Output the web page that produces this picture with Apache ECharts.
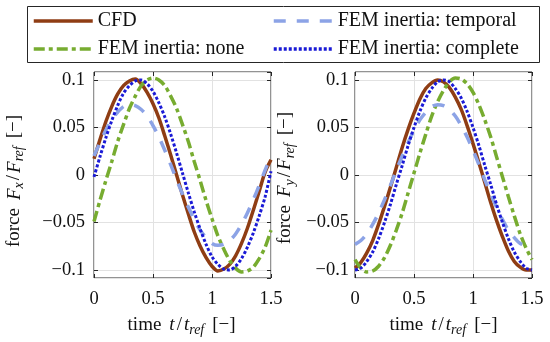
<!DOCTYPE html>
<html>
<head>
<meta charset="utf-8">
<script src="https://cdn.jsdelivr.net/npm/echarts@6/dist/echarts.min.js"></script>
<style>html,body{margin:0;padding:0;background:#fff}#c{width:550px;height:342px}</style>
</head>
<body>
<div id="c"></div>
<script>
const times = [0,0.05,0.1,0.15,0.2,0.25,0.3,0.35,0.4,0.45,0.5,0.55,0.6,0.65,0.7,0.75,0.8,0.85,0.9,0.95,1,1.05,1.1,1.15,1.2,1.25,1.3,1.35,1.4,1.45,1.5];

const seriesNames = ['CFD', 'FEM inertia: none', 'FEM inertia: temporal', 'FEM inertia: complete'];

// Fx / Fref
const fxCFD = [0.017,0.037,0.056,0.072,0.085,0.094,0.099,0.101,0.096,0.087,0.075,0.06,0.041,0.021,0,-0.021,-0.041,-0.06,-0.075,-0.087,-0.096,-0.101,-0.099,-0.094,-0.085,-0.072,-0.056,-0.037,-0.017,0.003,0.016];
const fxNone = [-0.049,-0.027,-0.006,0.014,0.035,0.053,0.070,0.083,0.094,0.1,0.102,0.1,0.094,0.083,0.070,0.053,0.035,0.014,-0.006,-0.027,-0.046,-0.064,-0.078,-0.09,-0.098,-0.102,-0.101,-0.097,-0.088,-0.076,-0.058];
const fxTemporal = [0.020,0.034,0.047,0.058,0.066,0.072,0.074,0.073,0.069,0.062,0.052,0.040,0.026,0.011,-0.005,-0.020,-0.034,-0.047,-0.058,-0.066,-0.072,-0.074,-0.073,-0.069,-0.062,-0.052,-0.040,-0.026,-0.011,0.005,0.020];
const fxComplete = [-0.002,0.019,0.039,0.057,0.073,0.086,0.094,0.099,0.1,0.096,0.088,0.076,0.061,0.043,0.023,0.002,-0.019,-0.039,-0.057,-0.073,-0.086,-0.094,-0.099,-0.1,-0.096,-0.088,-0.076,-0.061,-0.043,-0.023,0.004];

// Fy / Fref
const fyCFD = [-0.098,-0.092,-0.082,-0.069,-0.052,-0.033,-0.013,0.008,0.029,0.048,0.065,0.08,0.091,0.097,0.1,0.098,0.092,0.082,0.069,0.052,0.033,0.013,-0.008,-0.029,-0.048,-0.065,-0.08,-0.091,-0.097,-0.1,-0.1];
const fyNone = [-0.089,-0.098,-0.102,-0.101,-0.096,-0.087,-0.074,-0.058,-0.040,-0.019,0.002,0.023,0.043,0.062,0.077,0.089,0.098,0.102,0.101,0.096,0.087,0.074,0.058,0.040,0.019,-0.002,-0.023,-0.043,-0.062,-0.077,-0.089];
const fyTemporal = [-0.073,-0.069,-0.062,-0.052,-0.040,-0.026,-0.011,0.005,0.020,0.034,0.047,0.058,0.066,0.072,0.074,0.073,0.069,0.062,0.052,0.040,0.026,0.011,-0.005,-0.020,-0.034,-0.047,-0.058,-0.066,-0.072,-0.074,-0.073];
const fyComplete = [-0.1,-0.098,-0.091,-0.081,-0.067,-0.05,-0.031,-0.010,0.010,0.031,0.05,0.067,0.081,0.091,0.098,0.1,0.098,0.091,0.081,0.067,0.05,0.031,0.010,-0.010,-0.031,-0.05,-0.067,-0.081,-0.091,-0.098,-0.1];

const xMin = 0, xMax = 1.5, xStep = 0.5;
const yMin = -0.1084, yMax = 0.1084;

const FONT = 'Liberation Serif';
const colors = ['#8f3d14', '#77ac30', '#8ca3e6', '#1a1ad6'];
const styles = [
  {width: 3.5, type: 'solid'},
  {width: 3.5, type: [11, 4, 4, 4]},
  {width: 3.5, type: [12, 11]},
  {width: 3, type: [3, 2]}
];

const chart = echarts.init(document.getElementById('c'), null, {renderer: 'canvas'});

function fmtY(v) {
  if (Math.abs(v) > 0.105) return '';
  const r = Math.round(v * 1000) / 1000;
  if (r === 0) return '0';
  return String(r).replace('-', '\u2212');
}

function mkX(gi, pos, labels) {
  return {
    type: 'value', gridIndex: gi, position: pos, min: xMin, max: xMax, interval: xStep,
    axisLine: {show: false, onZero: false},
    axisTick: {show: true, inside: true, length: 4, lineStyle: {color: '#262626'}},
    axisLabel: {show: labels, margin: 12, color: '#111', fontFamily: FONT, fontSize: 18.5},
    splitLine: {show: labels, lineStyle: {color: '#e2e2e2', width: 1}}
  };
}
function mkY(gi, pos, labels, margin) {
  return {
    type: 'value', gridIndex: gi, position: pos, min: yMin, max: yMax,
    axisLine: {show: false, onZero: false},
    axisTick: {show: true, inside: true, length: 4, lineStyle: {color: '#262626'}},
    axisLabel: {show: labels, margin: margin, color: '#111', fontFamily: FONT, fontSize: 18.5,
                showMinLabel: false, showMaxLabel: false, formatter: fmtY},
    splitLine: {show: labels, lineStyle: {color: '#e2e2e2', width: 1}}
  };
}

const panels = [
  [fxCFD, fxNone, fxTemporal, fxComplete],
  [fyCFD, fyNone, fyTemporal, fyComplete]
];
const series = [];
panels.forEach((arrs, p) => {
  arrs.forEach((arr, k) => {
    series.push({
      name: seriesNames[k], type: 'line', xAxisIndex: p, yAxisIndex: p,
      data: times.map((t, i) => [t, arr[i]]),
      symbol: 'none', smooth: 0.3, animation: false,
      lineStyle: {color: colors[k], width: styles[k].width, type: styles[k].type, cap: 'butt'},
      itemStyle: {color: colors[k]},
      z: 2 + k
    });
  });
});

const richBase = {
  n: {fontFamily: FONT, fontSize: 19, lineHeight: 24, color: '#111'},
  i: {fontFamily: FONT, fontSize: 19, fontStyle: 'italic', lineHeight: 24, color: '#111'},
  s: {fontFamily: FONT, fontSize: 14, fontStyle: 'italic', lineHeight: 17, verticalAlign: 'bottom', color: '#111'},
  g: {width: 8, fontSize: 19, lineHeight: 24},
  h: {width: 2, fontSize: 19, lineHeight: 24}
};

function label(x, y, rot, text) {
  return {
    type: 'text', x: x, y: y, rotation: rot, z: 10,
    style: {text: text, rich: richBase, align: 'center', verticalAlign: 'middle', fill: '#111',
            fontFamily: FONT, fontSize: 19}
  };
}

const xName = '{n|time}{g| }{i|t}{h| }{n|/}{h| }{i|t}{s|ref}{g| }{n|[\u2212]}';
const yNameX = '{n|force}{g| }{i|F}{s|x}{h| }{n|/}{h| }{i|F}{s|ref}{g| }{n|[\u2212]}';
const yNameY = '{n|force}{g| }{i|F}{s|y}{h| }{n|/}{h| }{i|F}{s|ref}{g| }{n|[\u2212]}';

const legendCommon = {
  orient: 'vertical', padding: 0, itemWidth: 59, itemHeight: 14, itemGap: 8,
  itemStyle: {opacity: 0},
  lineStyle: {width: 3.5},
  textStyle: {fontFamily: FONT, fontSize: 20, color: '#111', lineHeight: 20},
  selectedMode: false
};

chart.setOption({
  animation: false,
  backgroundColor: '#fff',
  grid: [
    {left: 94, top: 72, width: 177, height: 206, show: true, borderColor: '#262626', borderWidth: 1, containLabel: false},
    {left: 355, top: 72, width: 177, height: 206, show: true, borderColor: '#262626', borderWidth: 1, containLabel: false}
  ],
  xAxis: [mkX(0, 'bottom', true), mkX(1, 'bottom', true), mkX(0, 'top', false), mkX(1, 'top', false)],
  yAxis: [mkY(0, 'left', true, 9), mkY(1, 'left', true, 6), mkY(0, 'right', false, 6), mkY(1, 'right', false, 6)],
  legend: [
    Object.assign({}, legendCommon, {left: 32, top: 11, data: [seriesNames[0], seriesNames[1]]}),
    Object.assign({}, legendCommon, {left: 272, top: 11, data: [seriesNames[2], seriesNames[3]]})
  ],
  graphic: [
    {type: 'rect', z: 1, shape: {x: 27.5, y: 6.5, width: 512, height: 56},
     style: {fill: '#fff', stroke: '#262626', lineWidth: 1}},
    label(181.6, 325, 0, xName),
    label(443.5, 325, 0, xName),
    label(14.5, 181, Math.PI / 2, yNameX),
    label(285, 178, Math.PI / 2, yNameY)
  ],
  series: series
});
</script>
</body>
</html>
